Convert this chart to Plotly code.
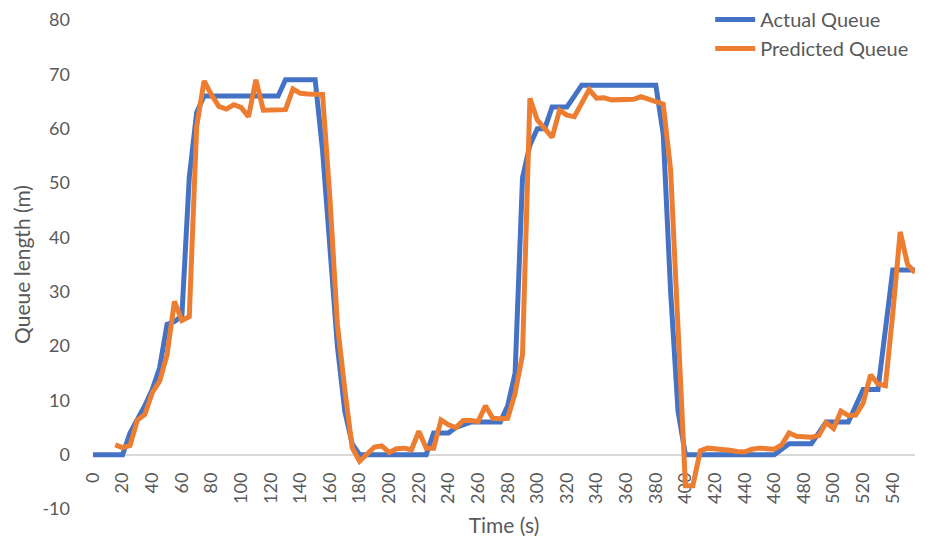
import plotly.graph_objects as go

time_s = list(range(0, 560, 5))

actual_queue = [
    0, 0, 0, 0, 0, 4, 6.5, 9, 12, 16,
    24, 24.5, 25.5, 51, 63, 66, 66, 66, 66, 66,
    66, 66, 66, 66, 66, 66, 69, 69, 69, 69,
    69, 56, 37, 20, 8, 2, 0, 0, 0, 0,
    0, 0, 0, 0, 0, 0, 4, 4, 4, 5,
    5.5, 6, 6, 6, 6, 6, 9, 15, 51, 57,
    60, 60, 64, 64, 64, 66, 68, 68, 68, 68,
    68, 68, 68, 68, 68, 68, 68, 59, 30, 8,
    0, 0, 0, 0, 0, 0, 0, 0, 0, 0,
    0, 0, 0, 1, 2, 2, 2, 2, 4, 6,
    6, 6, 6, 9, 12, 12, 12, 23, 34, 34,
    34, 34,
]

predicted_queue = [
    None, None, None, 1.8, 1.3, 1.7, 6.4, 7.4, 11.4, 13.5,
    18.4, 28.2, 24.7, 25.4, 60.4, 68.8, 66.2, 64.1, 63.6, 64.4,
    63.9, 62.2, 69, 63.4, 63.4, 63.4, 63.5, 67.3, 66.5, 66.4,
    66.4, 66.3, 47, 24, 12, 1.3, -1.2, 0.2, 1.4, 1.6,
    0.4, 1.1, 1.2, 0.9, 4.3, 1.2, 1.2, 6.4, 5.5, 5.0,
    6.3, 6.3, 6.1, 9.0, 6.7, 6.6, 6.7, 11.3, 18.4, 65.6,
    61.6, 60, 58.4, 63.4, 62.5, 62.2, 64.7, 67.2, 65.6, 65.7,
    65.3, 65.3, 65.4, 65.4, 65.9, 65.4, 65.0, 64.5, 52.4, 22,
    -5.7, -5.7, 0.7, 1.2, 1.1, 1.1, 0.8, 0.6, 0.5, 1.0,
    1.2, 1.1, 1.0, 1.8, 4.0, 3.4, 3.2, 3.2, 3.5, 5.9,
    4.8, 8.0, 7.2, 7.3, 9.5, 14.7, 13.0, 12.7, 26, 41,
    35, 33.5,
]

x_ticks = list(range(0, 541, 20))
x_tick_labels = [str(v) for v in x_ticks]
y_ticks = list(range(-10, 81, 10))
y_tick_labels = [str(v) for v in y_ticks]

FONT = "Lato"
GRAY = "#595959"

fig = go.Figure()
fig.add_trace(go.Scatter(
    x=time_s, y=actual_queue, mode="lines", name="Actual Queue",
    line=dict(color="#4472C4", width=5, shape="linear"),
))
fig.add_trace(go.Scatter(
    x=time_s, y=predicted_queue, mode="lines", name="Predicted Queue",
    line=dict(color="#ED7D31", width=5, shape="linear"),
    connectgaps=False,
))

y_min, y_max = -10, 80
zero_pos = (0 - y_min) / (y_max - y_min)

fig.update_layout(
    width=932, height=543,
    margin=dict(l=93, r=17, t=20, b=34, autoexpand=False),
    paper_bgcolor="white", plot_bgcolor="white",
    font=dict(family=FONT, color=GRAY, size=18),
    showlegend=True,
    legend=dict(
        xref="container", yref="container",
        x=0.762, y=1.0, xanchor="left", yanchor="top",
        bgcolor="rgba(0,0,0,0)", font=dict(size=20, color=GRAY),
        itemwidth=40, tracegroupgap=0,
    ),
    xaxis=dict(
        range=[0, 555], tickmode="array", tickvals=x_ticks, ticktext=x_tick_labels,
        tickangle=-90, showgrid=False, zeroline=False,
        showline=True, linecolor="#d9d9d9", linewidth=1.5, layer="below traces",
        anchor="free", position=zero_pos,
        ticks="", ticklabelstandoff=10, tickfont=dict(size=18, color=GRAY),
        title=dict(text="Time (s)", font=dict(size=21, color=GRAY), standoff=14),
        automargin=False,
    ),
    yaxis=dict(
        range=[y_min, y_max], tickmode="array", tickvals=y_ticks, ticktext=y_tick_labels,
        showgrid=False, zeroline=False, showline=False, ticks="",
        ticklabelstandoff=22, tickfont=dict(size=18, color=GRAY),
        title=dict(text="Queue length (m)", font=dict(size=21, color=GRAY), standoff=6),
        automargin=False,
    ),
)

fig.write_html(
    "out.html",
    config={"displayModeBar": False},
    post_script="document.body.style.margin='0px';",
)
